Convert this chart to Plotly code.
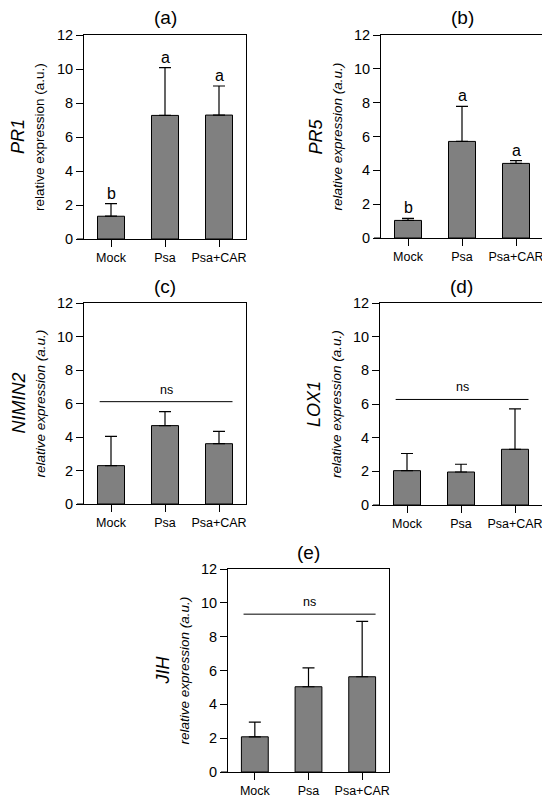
"""Relative expression of five defence genes after Psa / Psa+CAR treatment.

Five bar panels (a)-(e), mean + upward SD, letters / ns above the bars.
Writes out.html.
"""

import plotly.graph_objects as go

GROUPS = ["Mock", "Psa", "Psa+CAR"]
GENES = ["PR1", "PR5", "NIMIN2", "LOX1", "JIH"]
PANELS = ["(a)", "(b)", "(c)", "(d)", "(e)"]

pr1_mean = [1.34, 7.27, 7.29]
pr1_sd = [0.74, 2.81, 1.71]
pr5_mean = [1.04, 5.71, 4.41]
pr5_sd = [0.12, 2.07, 0.16]
nimin2_mean = [2.29, 4.68, 3.60]
nimin2_sd = [1.75, 0.83, 0.74]
lox1_mean = [2.04, 1.96, 3.31]
lox1_sd = [1.02, 0.46, 2.40]
jih_mean = [2.08, 5.04, 5.63]
jih_sd = [0.87, 1.11, 3.27]

MEANS = [pr1_mean, pr5_mean, nimin2_mean, lox1_mean, jih_mean]
SDS = [pr1_sd, pr5_sd, nimin2_sd, lox1_sd, jih_sd]

# significance letters (panels a, b) and "ns" bar level (panels c-e)
LETTERS = [["b", "a", "a"], ["b", "a", "a"], None, None, None]
NS_LEVEL = [None, None, 6.11, 6.27, 9.33]
NS_SPAN = [-0.21, 2.25]

# y-label second line is upright in (a), italic elsewhere
ITALIC_SUB = [False, True, True, True, True]

# the page body keeps its default 8px margin, so the figure starts at (8, 8)
OFF = 8
W, H = 550 - OFF, 802 - OFF
FONT = "Arial, Liberation Sans, sans-serif"
BAR = "#808080"
TICKLEN = 7

# panel boxes in window pixels: left, right, top, bottom
BOXES = [
    (84, 246, 35, 239),
    (381, 543, 35, 238),
    (84, 246, 303, 504),
    (380, 542, 303, 505),
    (228, 389, 569, 772),
]


def px(x):
    return (x - OFF) / W


def py(y):
    return 1 - (y - OFF) / H


def main():
    fig = go.Figure()
    annotations = []
    shapes = []

    for i, gene in enumerate(GENES):
        n = "" if i == 0 else str(i + 1)
        xa, ya = "x" + n, "y" + n
        left, right, top, bottom = BOXES[i]

        fig.add_bar(
            x=GROUPS,
            y=MEANS[i],
            width=0.5,
            marker=dict(color=BAR, line=dict(color="black", width=1)),
            error_y=dict(
                type="data",
                symmetric=False,
                array=SDS[i],
                arrayminus=[0] * len(GROUPS),
                color="black",
                thickness=1.2,
                width=6,
            ),
            xaxis=xa,
            yaxis=ya,
            showlegend=False,
        )

        axis_common = dict(
            showline=True,
            linecolor="black",
            linewidth=1,
            mirror=True,
            ticks="outside",
            ticklen=TICKLEN,
            tickcolor="black",
            tickwidth=1,
            showgrid=False,
            zeroline=False,
            automargin=False,
        )
        fig.layout["xaxis" + n] = dict(
            domain=[px(left), px(right)],
            anchor=ya,
            range=[-0.5, 2.5],
            tickfont=dict(family=FONT, size=12.5, color="black"),
            **axis_common,
        )
        fig.layout["yaxis" + n] = dict(
            domain=[py(bottom), py(top)],
            anchor=xa,
            range=[0, 12],
            dtick=2,
            tickfont=dict(family=FONT, size=14.5, color="black"),
            **axis_common,
        )

        # x axis line runs out to the start of the y ticks
        shapes.append(dict(
            type="line", xref=xa + " domain", yref=ya + " domain",
            x0=-TICKLEN / (right - left), x1=0, y0=0, y1=0,
            line=dict(color="black", width=1),
        ))

        ymid = py((top + bottom) / 2)
        # panel title
        annotations.append(dict(
            text=PANELS[i], xref="paper", yref="paper",
            x=px((left + right) / 2), y=py(top - 17),
            xanchor="center", yanchor="middle",
            showarrow=False, font=dict(family=FONT, size=19, color="black"),
        ))
        # gene name + y label
        annotations.append(dict(
            text="<i>%s</i>" % gene, xref="paper", yref="paper",
            x=px(left - 66), y=ymid, textangle=-90,
            xanchor="center", yanchor="middle",
            showarrow=False, font=dict(family=FONT, size=18, color="black"),
        ))
        sub = "relative expression (a.u.)"
        if ITALIC_SUB[i]:
            sub = "<i>%s</i>" % sub
        annotations.append(dict(
            text=sub, xref="paper", yref="paper",
            x=px(left - 44), y=ymid, textangle=-90,
            xanchor="center", yanchor="middle",
            showarrow=False, font=dict(family=FONT, size=13.5, color="black"),
        ))

        if LETTERS[i]:
            for g, m, s, lab in zip(GROUPS, MEANS[i], SDS[i], LETTERS[i]):
                annotations.append(dict(
                    text=lab, xref=xa, yref=ya, x=g, y=m + s,
                    xanchor="center", yanchor="bottom", showarrow=False,
                    font=dict(family=FONT, size=16, color="black"),
                ))
        if NS_LEVEL[i] is not None:
            shapes.append(dict(
                type="line", xref=xa, yref=ya,
                x0=NS_SPAN[0], x1=NS_SPAN[1],
                y0=NS_LEVEL[i], y1=NS_LEVEL[i],
                line=dict(color="black", width=1),
            ))
            annotations.append(dict(
                text="ns", xref=xa, yref=ya,
                x=sum(NS_SPAN) / 2, y=NS_LEVEL[i],
                xanchor="center", yanchor="bottom", yshift=3, showarrow=False,
                font=dict(family=FONT, size=12.5, color="black"),
            ))

    fig.update_layout(
        width=W,
        height=H,
        margin=dict(l=0, r=0, t=0, b=0),
        paper_bgcolor="white",
        plot_bgcolor="white",
        annotations=annotations,
        shapes=shapes,
        font=dict(family=FONT, color="black"),
    )
    fig.write_html("out.html")


if __name__ == "__main__":
    main()
